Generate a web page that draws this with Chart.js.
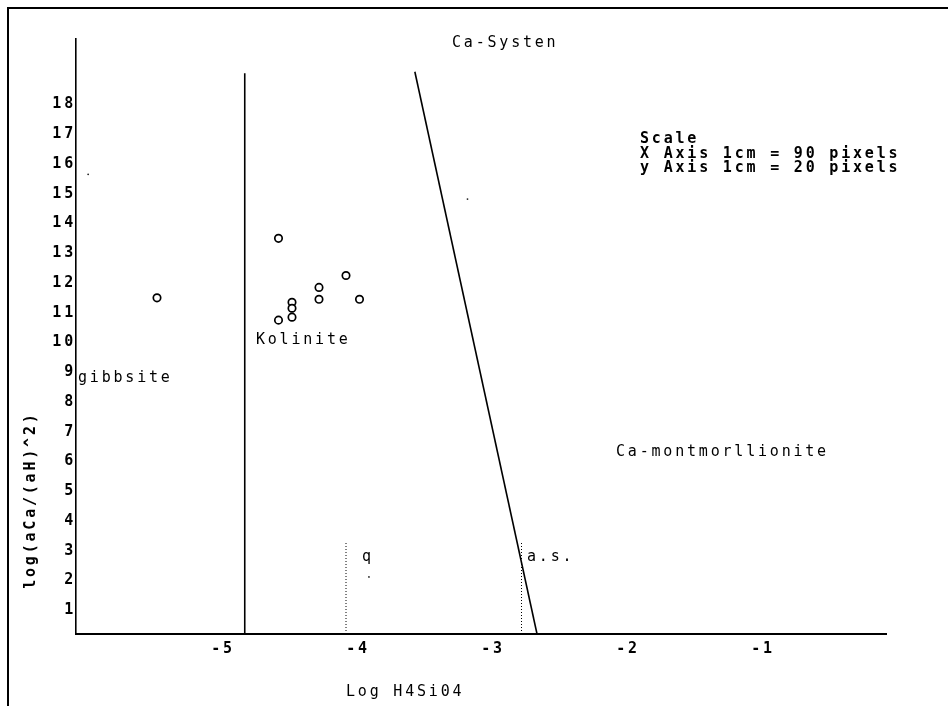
<!DOCTYPE html>
<html>
<head>
<meta charset="utf-8">
<title>Ca-Systen</title>
<script src="https://cdn.jsdelivr.net/npm/chart.js@4.4.1/dist/chart.umd.min.js"></script>
<style>
  body { margin: 0; background: #fff; }
  canvas { display: block; }
</style>
</head>
<body>
<canvas id="chart-ca" width="948" height="706"></canvas>
<script>
// water samples: Log H4SiO4 vs log(aCa/(aH)^2)
var sampleX = [-5.4, -4.5, -4.0, -4.2, -4.2, -3.9, -4.4, -4.4, -4.4, -4.5];
var sampleY = [11.3, 13.3, 12.05, 11.65, 11.25, 11.25, 11.15, 10.95, 10.65, 10.55];
// odd single-pixel plots
var speckX = [-5.91, -3.1, -3.83];
var speckY = [15.45, 14.62, 1.92];

// stability field boundaries
var gibbsKaolX = [-4.75, -4.75];
var gibbsKaolY = [0, 18.85];
var kaolMontX = [-3.49, -2.585];
var kaolMontY = [18.9, 0];
// quartz (q) and amorphous silica (a.s.) saturation
var quartzX = [-4.0, -4.0];
var quartzY = [0, 3.1];
var amSilX = [-2.7, -2.7];
var amSilY = [0, 3.1];

var xTicks = [-5, -4, -3, -2, -1];
var yTicks = [1, 2, 3, 4, 5, 6, 7, 8, 9, 10, 11, 12, 13, 14, 15, 16, 17, 18];

// field names and where they sit (data units)
var fieldNames = ['Ca-Systen', 'gibbsite', 'Kolinite', 'Ca-montmorllionite', 'q', 'a.s.'];
var fieldX = [-3.215, -5.985, -4.667, -2.0, -3.881, -2.659];
var fieldY = [19.87, 8.6, 9.88, 6.12, 2.57, 2.57];
var scaleNote = ['Scale', 'X Axis 1cm = 90 pixels', 'y Axis 1cm = 20 pixels'];

var MONO = '"DejaVu Sans Mono", "Liberation Mono", monospace';

function pts(xs, ys) {
    return xs.map(function(x, i) { return {x: x, y: ys[i]}; });
}

function boundary(xs, ys, dotted) {
    return {
        data: pts(xs, ys),
        showLine: true,
        borderColor: '#000',
        borderWidth: dotted ? 1 : 1.6,
        borderDash: dotted ? [1, 2] : [],
        pointRadius: 0,
        fill: false
    };
}

// wide DOS-style lettering + the text that isn't part of the axes
var oldText = {
    id: 'oldText',
    beforeDraw: function(chart) {
        chart.ctx.letterSpacing = '2.8px';
    },
    afterDraw: function(chart) {
        var ctx = chart.ctx;
        var xs = chart.scales.x, ys = chart.scales.y;
        ctx.save();
        ctx.fillStyle = '#000';
        ctx.textAlign = 'left';
        ctx.textBaseline = 'middle';

        ctx.font = '15px ' + MONO;
        fieldNames.forEach(function(t, i) {
            ctx.fillText(t, xs.getPixelForValue(fieldX[i]), ys.getPixelForValue(fieldY[i]));
        });
        ctx.fillText('Log H4Si04', xs.getPixelForValue(-4), ys.getPixelForValue(-1.95));

        ctx.font = 'bold 15px ' + MONO;
        var sx = xs.getPixelForValue(-1.822), sy = ys.getPixelForValue(16.62);
        scaleNote.forEach(function(t, i) {
            ctx.fillText(t, sx, sy + i * 14.5);
        });

        ctx.translate(xs.getPixelForValue(-6.333), ys.getPixelForValue(4.5));
        ctx.rotate(-Math.PI / 2);
        ctx.textAlign = 'center';
        ctx.fillText('log(aCa/(aH)^2)', 0, 0);
        ctx.restore();

        // page frame, left and top edges only
        ctx.save();
        ctx.strokeStyle = '#000';
        ctx.lineWidth = 2;
        ctx.beginPath();
        ctx.moveTo(8, 706);
        ctx.lineTo(8, 8);
        ctx.lineTo(948, 8);
        ctx.stroke();
        ctx.restore();

        ctx.letterSpacing = '0px';
    }
};

var ctx = document.getElementById('chart-ca');
var caChart = new Chart(ctx, {
    type: 'scatter',
    data: {
        datasets: [
            {
                data: pts(sampleX, sampleY),
                pointStyle: 'circle',
                pointRadius: 3.7,
                pointBorderWidth: 1.7,
                pointBorderColor: '#000',
                pointBackgroundColor: '#fff'
            },
            {
                data: pts(speckX, speckY),
                pointRadius: 0.9,
                pointBorderWidth: 0,
                pointBackgroundColor: '#222'
            },
            boundary(gibbsKaolX, gibbsKaolY, false),
            boundary(kaolMontX, kaolMontY, false),
            boundary(quartzX, quartzY, true),
            boundary(amSilX, amSilY, true)
        ]
    },
    options: {
        responsive: false,
        animation: false,
        layout: { padding: { left: 0, top: 39, right: 62, bottom: 0 } },
        plugins: {
            legend: { display: false },
            tooltip: { enabled: false }
        },
        scales: {
            x: {
                type: 'linear',
                min: -6,
                max: 0,
                afterFit: function(scale) { scale.height = 72; },
                afterBuildTicks: function(scale) {
                    scale.ticks = xTicks.map(function(v) { return {value: v}; });
                },
                grid: { display: false, drawTicks: false },
                border: { display: true, color: '#000', width: 2 },
                ticks: {
                    color: '#000',
                    font: { family: MONO, size: 15, weight: 'bold' },
                    padding: 6,
                    labelOffset: 12,
                    maxRotation: 0,
                    autoSkip: false
                }
            },
            y: {
                type: 'linear',
                min: 0,
                max: 20,
                afterFit: function(scale) { scale.width = 76; },
                afterBuildTicks: function(scale) {
                    scale.ticks = yTicks.map(function(v) { return {value: v}; });
                },
                grid: { display: false, drawTicks: false },
                border: { display: true, color: '#000', width: 1.6 },
                ticks: {
                    color: '#000',
                    font: { family: MONO, size: 15, weight: 'bold' },
                    padding: 0,
                    labelOffset: 6,
                    autoSkip: false
                }
            }
        }
    },
    plugins: [oldText]
});
</script>
</body>
</html>
